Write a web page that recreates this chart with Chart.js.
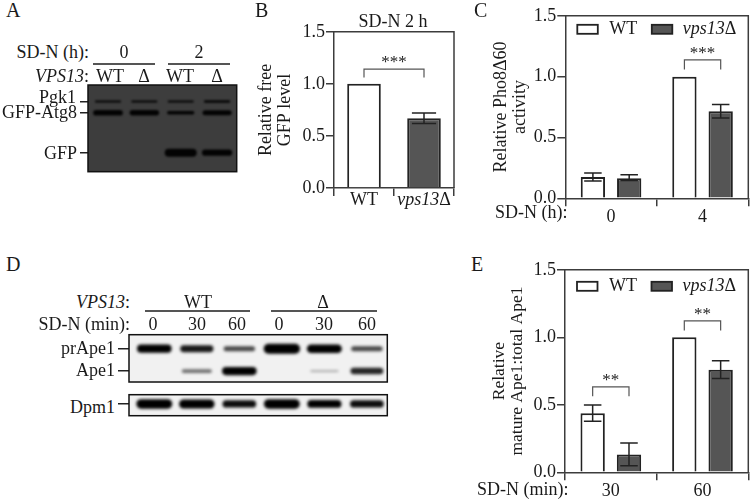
<!DOCTYPE html>
<html>
<head>
<meta charset="utf-8">
<script src="https://cdn.jsdelivr.net/npm/chart.js@4/dist/chart.umd.min.js"></script>
<style>
html, body { margin:0; padding:0; background:#fff; }
#page { position:relative; width:750px; height:499px; overflow:hidden; font-family:"Liberation Serif",serif; font-size:18px; color:#1a1a1a; }
canvas { position:absolute; }
.t { position:absolute; line-height:1; white-space:nowrap; transform:translate(-50%,-50%); }
.r { transform:translate(-100%,-50%); }
.l { transform:translate(0,-50%); }
.p { font-size:20px; }
.rule { position:absolute; height:1.5px; background:#555; }
</style>
</head>
<body>
<div id="page">
  <span class="t p l" style="left:6px;top:10px">A</span>
  <span class="t p l" style="left:255px;top:10px">B</span>
  <span class="t p l" style="left:474px;top:10px">C</span>
  <span class="t p l" style="left:6px;top:264px">D</span>
  <span class="t p l" style="left:471px;top:264px">E</span>

  <span class="t r" style="left:89px;top:52px">SD-N (h):</span>
  <span class="t r" style="left:89px;top:76px"><i>VPS13</i>:</span>
  <span class="t" style="left:124px;top:52px">0</span>
  <span class="t" style="left:199px;top:52px">2</span>
  <div class="rule" style="left:93px;top:63px;width:62px"></div>
  <div class="rule" style="left:168px;top:63px;width:62px"></div>
  <span class="t" style="left:110px;top:76px">WT</span>
  <span class="t" style="left:144px;top:76px">Δ</span>
  <span class="t" style="left:180px;top:76px">WT</span>
  <span class="t" style="left:217px;top:76px">Δ</span>
  <span class="t r" style="left:76px;top:97px">Pgk1</span>
  <span class="t r" style="left:77px;top:112px">GFP-Atg8</span>
  <span class="t r" style="left:77px;top:153px">GFP</span>

  <span class="t" style="left:393px;top:21px">SD-N 2 h</span>
  <span class="t l" style="left:495px;top:212px">SD-N (h):</span>
  <span class="t l" style="left:477px;top:489px">SD-N (min):</span>

  <span class="t r" style="left:130px;top:302px"><i>VPS13</i>:</span>
  <span class="t r" style="left:130px;top:324px">SD-N (min):</span>
  <span class="t" style="left:198px;top:302px">WT</span>
  <span class="t" style="left:323px;top:302px">Δ</span>
  <div class="rule" style="left:145px;top:310px;width:105px"></div>
  <div class="rule" style="left:271px;top:310px;width:106px"></div>
  <span class="t" style="left:153px;top:324px">0</span>
  <span class="t" style="left:197px;top:324px">30</span>
  <span class="t" style="left:237px;top:324px">60</span>
  <span class="t" style="left:279px;top:324px">0</span>
  <span class="t" style="left:324px;top:324px">30</span>
  <span class="t" style="left:367px;top:324px">60</span>
  <span class="t r" style="left:115px;top:348px">prApe1</span>
  <span class="t r" style="left:115px;top:370px">Ape1</span>
  <span class="t r" style="left:115px;top:407px">Dpm1</span>
</div>
<script>
const FONT = '"Liberation Serif", serif';
const INK = '#1a1a1a', LINE = '#3c3c3c', DARK = '#555555';

// panel B
const bLabels = ['WT', 'vps13Δ'];
const bValues = [1, 0.67];
const bHigh = [null, 0.72];
const bLow = [null, 0.62];

// panel C
const cLabels = ['0', '4'];
const cWT = [0.175, 1];
const cWTHigh = [0.207, null];
const cWTLow = [0.142, null];
const cVps = [0.165, 0.716];
const cVpsHigh = [0.193, 0.77];
const cVpsLow = [0.147, 0.66];

// panel E
const eLabels = ['30', '60'];
const eWT = [0.437, 1];
const eWTHigh = [0.498, null];
const eWTLow = [0.379, null];
const eVps = [0.132, 0.76];
const eVpsHigh = [0.217, 0.826];
const eVpsLow = [0.049, 0.694];

const yTicks = [0, 0.5, 1, 1.5];

// blots: band strength per lane, row = position down the membrane in %
const aRows = [19, 32, 78];
const aPgk1 = [0.17, 0.17, 0.15, 0.19];
const aGfpAtg8 = [0.67, 0.64, 0.33, 0.58];
const aGfp = [0, 0, 1, 0.75];
const dRows = [29.6, 76.8];
const dPrApe1 = [0.8, 0.65, 0.45, 1, 0.85, 0.45];
const dApe1 = [0, 0.3, 0.8, 0, 0.08, 0.6];
const dDpmRows = [44];
const dDpm1 = [0.95, 0.9, 0.7, 0.95, 0.75, 0.7];

function addCanvas(left, top, width, height) {
    const c = document.createElement('canvas');
    c.width = width; c.height = height;
    c.style.left = left + 'px'; c.style.top = top + 'px';
    c.style.width = width + 'px'; c.style.height = height + 'px';
    document.getElementById('page').prepend(c);
    return c;
}

// mixed italic/upright text, parts are [text, font style]
function drawParts(ctx, parts, x, y, center) {
    ctx.textBaseline = 'middle';
    ctx.textAlign = 'left';
    ctx.fillStyle = INK;
    const fonts = parts.map(p => (p[1] ? p[1] + ' ' : '') + '18px ' + FONT);
    let w = 0;
    parts.forEach((p, i) => { ctx.font = fonts[i]; w += ctx.measureText(p[0]).width; });
    let cx = center ? x - w / 2 : x;
    parts.forEach((p, i) => { ctx.font = fonts[i]; ctx.fillText(p[0], cx, y); cx += ctx.measureText(p[0]).width; });
}

function barChart(cfg) {
    const box = cfg.box, plot = cfg.plot;
    const canvas = addCanvas(box[0], box[1], box[2], box[3]);
    const extras = {
        id: 'extras',
        afterDatasetsDraw(chart) {
            const ctx = chart.ctx, y = chart.scales.y, x = chart.scales.x, a = chart.chartArea;
            ctx.save();
            // frame on the top and right
            ctx.strokeStyle = LINE; ctx.lineWidth = 1.5;
            ctx.beginPath();
            ctx.moveTo(a.left, a.top); ctx.lineTo(a.right, a.top); ctx.lineTo(a.right, a.bottom);
            ctx.stroke();
            // error bars
            ctx.strokeStyle = '#222'; ctx.lineWidth = 1.5;
            cfg.errors.forEach((err, ds) => {
                chart.getDatasetMeta(ds).data.forEach((bar, i) => {
                    if (err.high[i] == null) return;
                    const hi = y.getPixelForValue(err.high[i]), lo = y.getPixelForValue(err.low[i]);
                    const half = bar.width * 0.36;
                    ctx.beginPath();
                    ctx.moveTo(bar.x, hi); ctx.lineTo(bar.x, lo);
                    ctx.moveTo(bar.x - half, hi); ctx.lineTo(bar.x + half, hi);
                    ctx.moveTo(bar.x - half, lo); ctx.lineTo(bar.x + half, lo);
                    ctx.stroke();
                });
            });
            // significance brackets
            cfg.brackets.forEach(b => {
                const x0 = chart.getDatasetMeta(b.from[0]).data[b.from[1]].x;
                const x1 = chart.getDatasetMeta(b.to[0]).data[b.to[1]].x;
                const top = y.getPixelForValue(b.top), foot = y.getPixelForValue(b.foot);
                ctx.strokeStyle = DARK; ctx.lineWidth = 1.2;
                ctx.beginPath();
                ctx.moveTo(x0, foot); ctx.lineTo(x0, top); ctx.lineTo(x1, top); ctx.lineTo(x1, foot);
                ctx.stroke();
                ctx.fillStyle = '#222'; ctx.font = '17px ' + FONT;
                ctx.textAlign = 'center'; ctx.textBaseline = 'alphabetic';
                ctx.fillText(b.text, (x0 + x1) / 2, top - 2);
            });
            // legend inside the frame
            if (cfg.legendTop != null) {
                const ty = a.top + cfg.legendTop;
                ctx.lineWidth = 1.8; ctx.strokeStyle = '#222';
                ctx.fillStyle = '#fff';
                ctx.fillRect(a.left + 12, ty - 4.5, 20.5, 9); ctx.strokeRect(a.left + 12, ty - 4.5, 20.5, 9);
                ctx.fillStyle = DARK;
                ctx.fillRect(a.left + 86.5, ty - 4.5, 20.5, 9); ctx.strokeRect(a.left + 86.5, ty - 4.5, 20.5, 9);
                drawParts(ctx, [['WT', '']], a.left + 44, ty, false);
                drawParts(ctx, [['vps13', 'italic'], ['Δ', '']], a.left + 117.5, ty, false);
            }
            // upright delta in the category label
            if (cfg.richLabels) {
                drawParts(ctx, [['WT', '']], x.getPixelForValue(0), a.bottom + 12, true);
                drawParts(ctx, [['vps13', 'italic'], ['Δ', '']], x.getPixelForValue(1), a.bottom + 12, true);
            }
            ctx.restore();
        }
    };
    return new Chart(canvas, {
        type: 'bar',
        data: { labels: cfg.labels, datasets: cfg.datasets.map(d => ({
            label: d.label, data: d.data,
            backgroundColor: d.fill, borderColor: '#222', borderWidth: 2, borderSkipped: 'bottom',
            categoryPercentage: cfg.catPct, barPercentage: cfg.barPct
        })) },
        plugins: [extras],
        options: {
            responsive: false, animation: false,
            layout: { padding: { left: 0, top: plot[1] - box[1], right: box[0] + box[2] - plot[2], bottom: 0 } },
            plugins: { legend: { display: false }, tooltip: { enabled: false } },
            scales: {
                x: {
                    afterFit(s) { s.height = box[1] + box[3] - plot[3]; },
                    border: { color: LINE, width: 1.5 },
                    grid: { drawOnChartArea: false, color: LINE, lineWidth: 1.5, tickLength: 8 },
                    ticks: { display: !cfg.richLabels, color: INK, padding: 0, maxRotation: 0, font: { family: FONT, size: 18 } }
                },
                y: {
                    min: 0, max: 1.5,
                    afterBuildTicks(s) { s.ticks = yTicks.map(v => ({ value: v })); },
                    afterFit(s) { s.width = plot[0] - box[0]; },
                    border: { color: LINE, width: 1.5 },
                    grid: { drawOnChartArea: false, color: LINE, lineWidth: 1.5, tickLength: 8 },
                    ticks: { color: INK, padding: 1, font: { family: FONT, size: 18 }, callback: v => v.toFixed(1) },
                    title: { display: true, text: cfg.yTitle, color: INK, padding: { top: 0, bottom: 0 },
                        font: { family: FONT, size: cfg.titleSize, lineHeight: 1.05 } }
                }
            }
        }
    });
}

function blotChart(cfg) {
    const box = cfg.box, plot = cfg.plot;
    const canvas = addCanvas(box[0], box[1], box[2], box[3]);
    const datasets = [];
    cfg.bands.forEach(row => {
        row.levels.forEach((lv, i) => {
            if (!lv) return;
            datasets.push({
                data: [{ x: i + 1 - cfg.half, y: row.y }, { x: i + 1 + cfg.half, y: row.y }],
                borderColor: 'rgba(0,0,0,' + Math.min(1, cfg.alpha(lv)) + ')',
                borderWidth: 1 + cfg.thick * lv,
                borderCapStyle: 'round', pointRadius: 0
            });
        });
    });
    const look = {
        id: 'look',
        beforeDraw(chart) {
            const a = chart.chartArea;
            chart.ctx.fillStyle = cfg.bg;
            chart.ctx.fillRect(a.left, a.top, a.width, a.height);
        },
        beforeDatasetsDraw(chart) { chart.ctx.save(); chart.ctx.filter = 'blur(' + cfg.blur + 'px)'; },
        afterDatasetsDraw(chart) {
            chart.ctx.restore();
            const a = chart.chartArea;
            chart.ctx.strokeStyle = '#111'; chart.ctx.lineWidth = 1.5;
            chart.ctx.strokeRect(a.left, a.top, a.width, a.height);
        }
    };
    return new Chart(canvas, {
        type: 'line',
        data: { datasets },
        plugins: [look],
        options: {
            responsive: false, animation: false, parsing: false,
            layout: { padding: { left: 0, top: plot[1] - box[1], right: box[0] + box[2] - plot[2], bottom: box[1] + box[3] - plot[3] } },
            plugins: { legend: { display: false }, tooltip: { enabled: false } },
            scales: {
                x: { type: 'linear', display: false, min: cfg.laneMin, max: cfg.laneMax },
                y: {
                    min: 0, max: 100, reverse: true,
                    afterBuildTicks(s) { s.ticks = cfg.bands.map(r => ({ value: r.y })); },
                    afterFit(s) { s.width = plot[0] - box[0]; },
                    border: { display: false },
                    grid: { drawOnChartArea: false, color: '#222', lineWidth: 1.5, tickLength: cfg.tick },
                    ticks: { display: false }
                }
            }
        }
    });
}

blotChart({
    box: [78, 80, 164, 96], plot: [88, 85, 236.7, 171.7], bg: '#3d3d3d', blur: 1, thick: 7, tick: 8, half: 0.33,
    alpha: () => 0.95, laneMin: 0.45, laneMax: 4.54,
    bands: [{ y: aRows[0], levels: aPgk1 }, { y: aRows[1], levels: aGfpAtg8 }, { y: aRows[2], levels: aGfp }]
});
blotChart({
    box: [116, 330, 276, 57], plot: [129, 334.7, 387.3, 382], bg: '#f1f1f1', blur: 1.8, thick: 9, tick: 11, half: 0.31,
    alpha: v => 0.25 + v, laneMin: 0.405, laneMax: 6.48,
    bands: [{ y: dRows[0], levels: dPrApe1 }, { y: dRows[1], levels: dApe1 }]
});
blotChart({
    box: [116, 390, 276, 30], plot: [129, 394.7, 387.3, 415.7], bg: '#f1f1f1', blur: 1.8, thick: 9, tick: 11, half: 0.31,
    alpha: v => 0.25 + v, laneMin: 0.405, laneMax: 6.48,
    bands: [{ y: dDpmRows[0], levels: dDpm1 }]
});

barChart({
    box: [257, 20, 203, 198], plot: [334, 30, 454, 188], titleSize: 18,
    labels: bLabels, richLabels: true, catPct: 1, barPct: 0.56,
    yTitle: ['Relative free', 'GFP level'],
    datasets: [{ label: 'SD-N 2 h', data: bValues, fill: [ '#fff', DARK ] }],
    errors: [{ high: bHigh, low: bLow }],
    brackets: [{ from: [0, 0], to: [0, 1], top: 1.142, foot: 1.062, text: '***' }]
});
barChart({
    box: [492, 4, 258, 225], plot: [565.3, 14.7, 748.3, 198.3], titleSize: 18,
    labels: cLabels, catPct: 0.793, barPct: 0.67, legendTop: 13.5,
    yTitle: ['Relative Pho8Δ60', 'activity'],
    datasets: [{ label: 'WT', data: cWT, fill: '#fff' }, { label: 'vps13Δ', data: cVps, fill: DARK }],
    errors: [{ high: cWTHigh, low: cWTLow }, { high: cVpsHigh, low: cVpsLow }],
    brackets: [{ from: [0, 1], to: [1, 1], top: 1.138, foot: 1.059, text: '***' }]
});
barChart({
    box: [490, 258, 260, 241], plot: [565, 267.7, 748.3, 472.3], titleSize: 17.5,
    labels: eLabels, catPct: 0.793, barPct: 0.67, legendTop: 16.5,
    yTitle: ['Relative', 'mature Ape1:total Ape1'],
    datasets: [{ label: 'WT', data: eWT, fill: '#fff' }, { label: 'vps13Δ', data: eVps, fill: DARK }],
    errors: [{ high: eWTHigh, low: eWTLow }, { high: eVpsHigh, low: eVpsLow }],
    brackets: [
        { from: [0, 0], to: [1, 0], top: 0.633, foot: 0.564, text: '**' },
        { from: [0, 1], to: [1, 1], top: 1.121, foot: 1.05, text: '**' }
    ]
});
</script>
</body>
</html>
